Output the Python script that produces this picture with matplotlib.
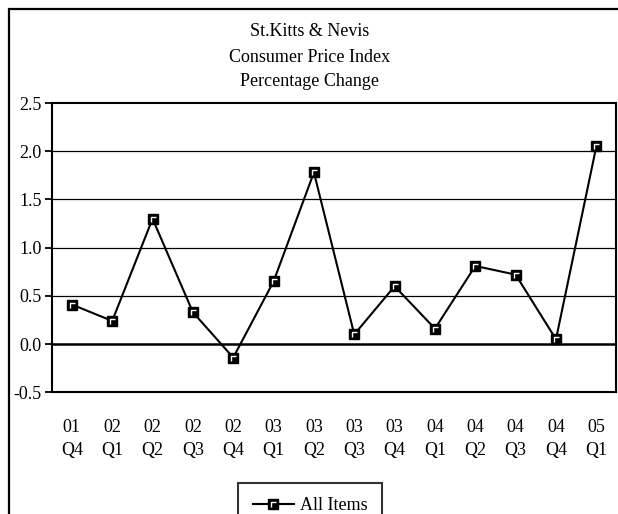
import matplotlib
matplotlib.use("Agg")
import matplotlib.pyplot as plt
from matplotlib.patches import Rectangle
from matplotlib.path import Path

# quarterly CPI percentage change, St. Kitts & Nevis
years = ["01", "02", "02", "02", "02", "03", "03", "03", "03", "04", "04", "04", "04", "05"]
quarters = ["Q4", "Q1", "Q2", "Q3", "Q4", "Q1", "Q2", "Q3", "Q4", "Q1", "Q2", "Q3", "Q4", "Q1"]
all_items = [0.41, 0.24, 1.30, 0.33, -0.14, 0.65, 1.78, 0.10, 0.60, 0.16, 0.81, 0.72, 0.05, 2.05]
y_ticks = [-0.5, 0.0, 0.5, 1.0, 1.5, 2.0, 2.5]

plt.rcParams["font.family"] = ["Liberation Serif", "DejaVu Serif"]

W, H = 618, 514
fig = plt.figure(figsize=(W / 100, H / 100), dpi=100)

# outer chart frame (right and bottom edges run off the canvas)
fig.patches.append(Rectangle((9 / W, -0.2), 1.2, 1.2 - 9 / H,
                             transform=fig.transFigure, fill=False,
                             edgecolor="black", linewidth=1.6))

left, right, top, bottom = 51.7, 616.5, 103, 392.3
ax = fig.add_axes([left / W, 1 - bottom / H, (right - left) / W, (bottom - top) / H])

# small white corner stroke drawn over each black square marker
corner = Path([(-0.45, -0.7), (-0.45, 0.45), (0.55, 0.45)],
              [Path.MOVETO, Path.LINETO, Path.LINETO])

x = list(range(len(all_items)))
line, = ax.plot(x, all_items, color="black", linewidth=1.5, marker="s",
                markersize=7, markerfacecolor="black", markeredgecolor="black",
                markeredgewidth=1, zorder=3)
hilite, = ax.plot(x, all_items, linestyle="none", marker=corner, markersize=5,
                  markerfacecolor="none", markeredgecolor="white",
                  markeredgewidth=1, zorder=4)

ax.set_xlim(-0.5, len(all_items) - 0.5)
ax.set_ylim(-0.5, 2.5)
ax.set_yticks(y_ticks)
ax.set_yticklabels([f"{v:.1f}" for v in y_ticks], fontsize=13)
ax.set_xticks(x)
ax.set_xticklabels([f"{yr}\n{q}" for yr, q in zip(years, quarters)], fontsize=13,
                   linespacing=1.5)
ax.tick_params(axis="x", length=0, pad=19)
ax.tick_params(axis="y", length=5, width=1.3, pad=2, direction="out")

for v in [0.5, 1.0, 1.5, 2.0]:
    ax.axhline(v, color="black", linewidth=0.9, zorder=1)
ax.axhline(0.0, color="black", linewidth=1.8, zorder=1)

for s in ax.spines.values():
    s.set_linewidth(1.5)

fig.text(310 / W, 1 - 32 / H, "St.Kitts & Nevis", ha="center", va="center", fontsize=13)
fig.text(310 / W, 1 - 57 / H, "Consumer Price Index", ha="center", va="center", fontsize=13)
fig.text(310 / W, 1 - 82 / H, "Percentage Change", ha="center", va="center", fontsize=13)

leg = fig.legend(handles=[(line, hilite)], labels=["All Items"], loc="upper center",
                 bbox_to_anchor=(310 / W, 1 - 482.7 / H), fontsize=13,
                 frameon=True, fancybox=False, handlelength=2.3,
                 borderpad=0.8, handletextpad=0.3, borderaxespad=0)
leg.get_frame().set_edgecolor("black")
leg.get_frame().set_linewidth(1.5)

fig.savefig("out.png", dpi=100)
